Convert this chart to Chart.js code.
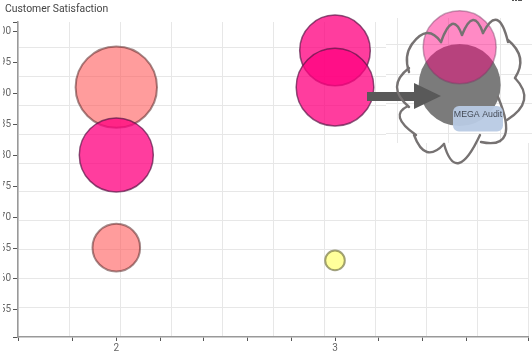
<!DOCTYPE html>
<html><head><meta charset="utf-8">
<script src="https://cdn.jsdelivr.net/npm/chart.js@4"></script>
<style>html,body{margin:0;padding:0;background:#fff;overflow:hidden}
#wrap{position:relative;width:532px;height:354px}
#title{position:absolute;left:5px;top:3px;font:10.4px/12px Roboto;color:#444;white-space:nowrap}</style>
</head><body><div id="wrap"><canvas id="c" width="532" height="354"></canvas><div id="title"></div></div>
<script>
const titleText = 'Customer Satisfaction';
const calloutText = 'MEGA Audit';
const yTickLabels = [55,60,65,70,75,80,85,90,95,100];
const xTickLabels = [2,3];

const salmonX = [2,2];
const salmonY = [91.05,65.07];
const salmonR = [40.7,23.8];
const pinkX = [2,3,3];
const pinkY = [80.07,97,91.05];
const pinkR = [37,35.3,38.8];
const yellowX = [3];
const yellowY = [63];
const yellowR = [9.8];
const lightPinkX = [3.57];
const lightPinkY = [97.5];
const lightPinkR = [36.5];
const greyX = [3.57];
const greyY = [91.4];
const greyR = [41];

document.getElementById('title').textContent = titleText;
const pts = (x,y,r)=>x.map((v,i)=>({x:v,y:y[i],r:r[i]}));
const GRID='#e7e7e7';

const backdrop = {id:'backdrop',beforeDatasetsDraw(ch){
  const c=ch.ctx;c.save();
  c.fillStyle='#fff';c.fillRect(386,18,146,125);
  c.strokeStyle=GRID;c.lineWidth=1;c.beginPath();
  [397.5,448.5,500.5].forEach(x=>{c.moveTo(x,18);c.lineTo(x,143);});
  [44.5,74.5,103.5,133.5].forEach(y=>{c.moveTo(386,y);c.lineTo(532,y);});
  c.stroke();c.restore();
}};

const lobes=[
 [[441,42],[427,33],[412,44]],[[412,44],[407,57],[409,72]],
 [[409,68],[397,87],[409,107]],[[408,106],[400,118],[416,135]],
 [[414,135],[427,152],[444,144]],[[444,144],[459,163],[480,135]],
 [[481,142],[505,135],[498,97]],[[507,120],[524,100],[515,78]],
 [[515,78],[520,58],[508,40]],[[508,42],[497,20],[483,33]],
 [[483,33],[473,20],[462,35]],[[462,35],[452,24],[441,42]]
];
const overlay = {id:'overlay',afterDatasetsDraw(ch){
  const c=ch.ctx;c.save();
  c.fillStyle='#595959';c.beginPath();
  c.moveTo(367,92);c.lineTo(414,92);c.lineTo(414,83);c.lineTo(441,96);c.lineTo(414,109);c.lineTo(414,101);c.lineTo(367,101);c.closePath();c.fill();
  c.strokeStyle='#767272';c.lineWidth=2.4;c.lineCap='round';
  lobes.forEach(([a,b,d])=>{
    const cx=2*b[0]-(a[0]+d[0])/2, cy=2*b[1]-(a[1]+d[1])/2;
    c.beginPath();c.moveTo(a[0],a[1]);c.quadraticCurveTo(cx,cy,d[0],d[1]);c.stroke();});
  c.fillStyle='rgba(184,202,228,0.95)';c.beginPath();c.roundRect(453,106,50,25.5,6);c.fill();
  c.fillStyle='#444a55';c.font='8.8px "Liberation Sans"';c.textAlign='center';c.textBaseline='middle';
  c.fillText(calloutText,478,114.5);
  c.fillStyle='#555';c.fillRect(512,0,2,1);c.fillRect(515,0,2,1);c.fillRect(518,0,4,1);
  c.restore();
}};

const onMain={xAxisID:'x',yAxisID:'y',clip:false};
new Chart(document.getElementById('c'),{
 type:'bubble',
 data:{datasets:[
  {...onMain,label:'Light pink',data:pts(lightPinkX,lightPinkY,lightPinkR),backgroundColor:'rgba(255,0,128,0.46)',borderColor:'rgba(120,60,100,0.45)',borderWidth:1.5},
  {...onMain,label:'Grey',data:pts(greyX,greyY,greyR),backgroundColor:'#7b7b7b',borderColor:'#7b7b7b',borderWidth:0},
  {...onMain,label:'Yellow',data:pts(yellowX,yellowY,yellowR),backgroundColor:'rgba(255,255,130,0.8)',borderColor:'rgba(110,110,60,0.65)',borderWidth:2},
  {...onMain,label:'Pink',data:pts(pinkX,pinkY,pinkR),backgroundColor:'rgba(255,0,128,0.76)',borderColor:'rgba(90,20,70,0.7)',borderWidth:1.5},
  {...onMain,label:'Salmon',data:pts(salmonX,salmonY,salmonR),backgroundColor:'rgba(255,90,90,0.6)',borderColor:'rgba(80,30,30,0.52)',borderWidth:2}
 ]},
 plugins:[backdrop,overlay],
 options:{
  responsive:false,animation:false,
  events:[],
  layout:{autoPadding:false,padding:{left:3,right:4,top:22,bottom:0}},
  plugins:{legend:{display:false},tooltip:{enabled:false}},
  scales:{
   gx:{type:'linear',position:'bottom',min:0,max:10,
     afterFit(s){s.height=0;},
     border:{display:false},
     ticks:{display:false,stepSize:1},
     grid:{color:GRID,lineWidth:1,drawTicks:false}},
   gy:{type:'linear',position:'left',min:-0.04,max:10.9,
     afterFit(s){s.width=0;},
     border:{display:false},
     ticks:{display:false,stepSize:1},
     grid:{color:c=>Number.isInteger(c.tick.value)&&c.tick.value>0?GRID:'transparent',lineWidth:1,drawTicks:false}},
   x:{type:'linear',position:'bottom',min:1.5505,max:3.8825,
     afterFit(s){s.height=17;},
     border:{color:'#999',width:1.5},
     grid:{display:true,drawOnChartArea:false,drawTicks:true,tickLength:4,tickColor:'#555',tickWidth:1},
     ticks:{stepSize:0.2,autoSkip:false,maxRotation:0,padding:1,color:'#666',font:{family:'Roboto',size:10},
       callback:v=>xTickLabels.includes(+v.toFixed(3))?String(+v.toFixed(3)):''}},
   y:{type:'linear',position:'left',min:50.6,max:101.6,
     afterFit(s){s.width=15;},
     afterBuildTicks(s){s.ticks=[s.min,...yTickLabels,s.max].map(value=>({value}));},
     border:{color:'#999',width:1.5},
     grid:{display:true,drawOnChartArea:false,drawTicks:true,tickLength:5,tickColor:'#555',tickWidth:1},
     ticks:{autoSkip:false,padding:2,color:'#666',font:{family:'Roboto',size:10},
       callback:v=>yTickLabels.includes(v)?String(v):''}}
  }
 }
});
</script></body></html>
